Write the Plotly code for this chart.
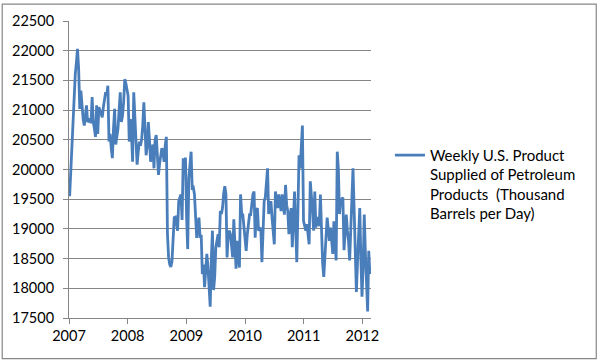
import pandas as pd
import plotly.graph_objects as go

series_name = "Weekly U.S. Product<br>Supplied of Petroleum<br>Products  (Thousand<br>Barrels per Day)"
start_week = "2007-01-05"

supplied = [
    19550, 20000, 20300, 20600, 21100, 21600, 21800, 22030, 21700, 21020,
    21330, 21000, 20850, 20740, 20950, 21080, 20800, 20820, 20860, 20780,
    21220, 20800, 20690, 20550, 21080, 20600, 21050, 21000, 20950, 20880,
    21050, 21150, 21300, 21250, 21410, 20470, 20600, 20360, 20190, 20690,
    21020, 20420, 20600, 20690, 21000, 21300, 20800, 20900, 21130, 21520,
    21450, 21350, 21240, 20470, 20850, 20600, 20130, 21300, 20800, 20580,
    20080, 20300, 20470, 20400, 20500, 20740, 21130, 20700, 20240, 20400,
    20800, 20500, 20130, 20300, 20420, 20020, 20500, 20580, 20250, 19910,
    20100, 20250, 20360, 20300, 20130, 20400, 20550, 18910, 18520, 18400,
    18360, 18450, 18800, 19190, 19200, 19100, 18970, 19470, 19550, 19580,
    19150, 20190, 19950, 20200, 19200, 18660, 19850, 20100, 20300, 19690,
    19700, 19580, 19240, 18850, 19050, 19190, 18850, 18900, 18240, 18400,
    18020, 18300, 18580, 18360, 18000, 17690, 18500, 18970, 17970, 18190,
    18690, 18780, 18910, 18690, 19300, 19250, 19360, 19600, 19720, 19580,
    18520, 18900, 18970, 18910, 18700, 18520, 19160, 18800, 18330, 18800,
    18600, 18350, 19580, 19250, 19240, 19020, 18800, 18630, 18910, 19100,
    19240, 19240, 19400, 19580, 19630, 18850, 19300, 19350, 18970, 19000,
    19020, 18440, 19100, 19470, 19530, 19800, 20020, 19250, 19400, 19470,
    19190, 19000, 18740, 19630, 19500, 19350, 19580, 19400, 19300, 19580,
    19400, 19240, 19740, 19400, 19300, 18910, 19200, 19350, 18690, 19200,
    19630, 19020, 18440, 19300, 20240, 20020, 20400, 20740, 19130, 19050,
    18970, 19080, 18900, 18740, 19800, 19580, 19300, 18970, 19630, 19020,
    19200, 19100, 19050, 19580, 18900, 18420, 18190, 18500, 18910, 19190,
    19000, 18800, 19020, 18800, 18580, 19130, 18800, 18470, 20300, 20000,
    19250, 19470, 19500, 19530, 18640, 19000, 19240, 18970, 18800, 18470,
    19240, 19500, 20020, 19300, 18970, 17940, 18440, 18900, 19350, 18500,
    17860, 18350, 19240, 18600, 18100, 17610, 18630, 18240,
]

year_ticks = ["2007-01-01", "2008-01-01", "2009-01-01", "2010-01-01", "2011-01-01", "2012-01-01"]
year_labels = ["2007", "2008", "2009", "2010", "2011", "2012"]
y_ticks = [17500, 18000, 18500, 19000, 19500, 20000, 20500, 21000, 21500, 22000, 22500]

dates = pd.date_range(start=start_week, periods=len(supplied), freq="7D")

W, H = 600, 361
L, R, T, B = 68, 229, 18, 43
pw, ph = W - L - R, H - T - B

fig = go.Figure()
fig.add_trace(go.Scatter(
    x=dates, y=supplied, mode="lines", name=series_name,
    line=dict(color="#4A7EBB", width=2.8),
))

grid = "#868686"
font = dict(family="Lato, Open Sans, sans-serif", size=14.5, color="#000000")
legend_font = dict(family="Lato, Open Sans, sans-serif", size=15, color="#000000")

fig.update_layout(
    width=W, height=H,
    margin=dict(l=L, r=R, t=T, b=B),
    paper_bgcolor="white", plot_bgcolor="white",
    font=font,
    showlegend=True,
    legend=dict(
        x=(390 - L) / pw, y=(H - B - 137) / ph, xanchor="left", yanchor="top",
        valign="top", font=legend_font, bgcolor="rgba(0,0,0,0)", borderwidth=0,
        tracegroupgap=0,
    ),
    xaxis=dict(
        type="date", range=["2007-01-01", "2012-02-24"],
        tickmode="array", tickvals=year_ticks, ticktext=year_labels,
        showgrid=False, zeroline=False,
        showline=True, linecolor=grid, linewidth=1,
        ticks="outside", ticklen=5, tickcolor=grid, tickwidth=1,
    ),
    yaxis=dict(
        range=[17500, 22500], tickmode="array", tickvals=y_ticks,
        ticktext=[str(v) for v in y_ticks],
        showgrid=True, gridcolor=grid, gridwidth=1, zeroline=False,
        showline=True, linecolor=grid, linewidth=1,
        ticks="outside", ticklen=5, tickcolor=grid, tickwidth=1,
        ticklabelstandoff=6,
    ),
)

# outer chart border
fig.add_shape(
    type="rect", xref="paper", yref="paper",
    x0=(1 - L) / pw, x1=(597 - L) / pw,
    y0=(H - B - 359) / ph, y1=(H - B - 1) / ph,
    line=dict(color="#878787", width=1.2), fillcolor="rgba(0,0,0,0)", layer="above",
)

fig.write_html(
    "out.html",
    config={"displayModeBar": False},
    post_script="document.body.style.margin='0';document.body.style.padding='0';",
)
